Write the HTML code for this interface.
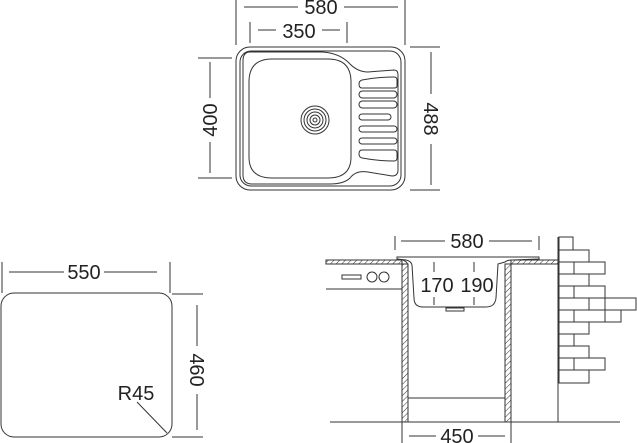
<!DOCTYPE html>
<html><head><meta charset="utf-8"><style>
html,body{margin:0;padding:0;background:#fff;}
svg{display:block}
text{font-family:"Liberation Sans",sans-serif;fill:#222;font-size:20px;}
</style></head><body>
<svg width="637" height="443" viewBox="0 0 637 443" xmlns="http://www.w3.org/2000/svg">
<defs>
<pattern id="h" width="4" height="4" patternUnits="userSpaceOnUse" patternTransform="rotate(45)">
<line x1="0" y1="0" x2="0" y2="4" stroke="#333" stroke-width="1"/>
</pattern>
</defs>
<g fill="none" stroke="#333" stroke-width="1">
<line x1="236" y1="0" x2="236" y2="45"/><line x1="405" y1="0" x2="405" y2="45"/>
<line x1="244" y1="7" x2="298" y2="7"/><line x1="344" y1="7" x2="398" y2="7"/>
<line x1="250" y1="22" x2="250" y2="43"/><line x1="347" y1="22" x2="347" y2="43"/>
<line x1="258" y1="30" x2="276" y2="30"/><line x1="322" y1="30" x2="340" y2="30"/>
<line x1="198" y1="58" x2="232" y2="58"/><line x1="198" y1="178" x2="232" y2="178"/>
<line x1="210" y1="62" x2="210" y2="98"/><line x1="210" y1="142" x2="210" y2="173"/>
<line x1="410" y1="47" x2="440" y2="47"/><line x1="410" y1="190" x2="440" y2="190"/>
<line x1="431" y1="52" x2="431" y2="94"/><line x1="431" y1="144" x2="431" y2="185"/>
<rect x="236" y="47" width="169" height="143" rx="14"/>
<rect x="240" y="51" width="161" height="135" rx="11"/>
<path d="M250 52 L322 52 Q340 53 350 64 Q358 72 368 72 L394 70 Q398 70 398 75 L398 170 Q398 176 392 176 L368 172 Q356 170 350 178 Q344 184 330 184 L252 184 Q243 184 243 175 L243 61 Q243 52 250 52 Z"/>
<path d="M272 59 L328 59 Q351 59 351 82 L351 157 Q351 178 328 178 L272 178 Q249 178 249 157 L249 82 Q249 59 272 59 Z"/>
<circle cx="315" cy="120" r="14"/><circle cx="315" cy="120" r="11"/><circle cx="315" cy="120" r="8"/><circle cx="315" cy="120" r="5"/><circle cx="315" cy="120" r="2"/>
<path d="M362 80 Q378 77 394 77 Q397 77 397 80 L397 86 Q397 88 394 88 L362 88 Q359 88 359 84 Q359 81 362 80 Z"/>
<rect x="359" y="91" width="38" height="7" rx="3.5"/>
<rect x="359" y="101" width="38" height="7" rx="3.5"/>
<rect x="359" y="114" width="32" height="6" rx="3"/>
<rect x="359" y="126" width="38" height="6" rx="3"/>
<rect x="359" y="138" width="38" height="6" rx="3"/>
<path d="M362 150 L394 150 Q397 150 397 153 L397 158 Q397 161 394 161 Q378 161 362 158 Q359 157 359 154 Q359 150 362 150 Z"/>

<line x1="2" y1="262" x2="2" y2="293"/><line x1="170" y1="262" x2="170" y2="293"/>
<line x1="9" y1="272" x2="64" y2="272"/><line x1="104" y1="272" x2="157" y2="272"/>
<rect x="1" y="293" width="171" height="144" rx="13"/>
<line x1="172" y1="294" x2="203" y2="294"/><line x1="172" y1="437" x2="203" y2="437"/>
<line x1="197" y1="305" x2="197" y2="346"/><line x1="197" y1="394" x2="197" y2="430"/>
<line x1="137" y1="402" x2="167" y2="433"/>

<line x1="395" y1="236" x2="395" y2="250"/><line x1="539" y1="236" x2="539" y2="250"/>
<line x1="401" y1="241" x2="445" y2="241"/><line x1="489" y1="241" x2="532" y2="241"/>
<rect x="326" y="260" width="76" height="4" fill="url(#h)"/>
<rect x="511" y="260" width="47" height="4" fill="url(#h)"/>
<line x1="326" y1="260" x2="402" y2="260"/>
<rect x="402" y="264" width="6" height="158" fill="url(#h)"/>
<rect x="505" y="264" width="6" height="158" fill="url(#h)"/>
<line x1="408" y1="398" x2="505" y2="398"/>
<line x1="330" y1="422" x2="620" y2="422"/>
<line x1="326" y1="289" x2="402" y2="289"/>
<rect x="342" y="275" width="19" height="4"/>
<circle cx="372" cy="277" r="5"/><circle cx="384" cy="277" r="5"/>
<path d="M397 257 L539 257 L539 259 L512 260 Q507 260 505 262 L498 264 L496 298 Q495 307 486 307 L423 307 Q414 307 414 298 L412 265 Q411 261 406 260 L397 259 Z"/>
<path d="M403 260 Q408 262 408 266"/>
<rect x="446" y="308" width="18" height="3"/>
<line x1="434" y1="262" x2="434" y2="272"/><line x1="434" y1="297" x2="434" y2="305"/>
<line x1="474" y1="262" x2="474" y2="272"/><line x1="474" y1="297" x2="474" y2="305"/>
<line x1="402" y1="422" x2="402" y2="443"/><line x1="511" y1="422" x2="511" y2="443"/>
<line x1="409" y1="436" x2="436" y2="436"/><line x1="478" y1="436" x2="505" y2="436"/>
<line x1="558" y1="237" x2="558" y2="422"/>
<rect x="559" y="237" width="14" height="13"/>
<rect x="559" y="250" width="30" height="12"/>
<rect x="559" y="262" width="15" height="12"/><rect x="574" y="262" width="31" height="12"/>
<rect x="559" y="274" width="30" height="12"/>
<rect x="559" y="286" width="15" height="12"/><rect x="574" y="286" width="31" height="12"/>
<rect x="559" y="298" width="30" height="12"/><rect x="589" y="298" width="16" height="12"/><rect x="605" y="298" width="31" height="12"/>
<rect x="559" y="310" width="15" height="12"/><rect x="574" y="310" width="31" height="12"/><rect x="605" y="310" width="16" height="12"/>
<rect x="559" y="322" width="30" height="12"/>
<rect x="559" y="334" width="15" height="12"/>
<rect x="559" y="346" width="30" height="12"/>
<rect x="559" y="358" width="15" height="12"/><rect x="574" y="358" width="31" height="12"/>
<rect x="559" y="370" width="30" height="13"/>
</g>
<text x="321" y="14" text-anchor="middle">580</text>
<text x="299" y="38" text-anchor="middle">350</text>
<text transform="translate(217,120) rotate(-90)" text-anchor="middle">400</text>
<text transform="translate(424,119) rotate(90)" text-anchor="middle">488</text>
<text x="84" y="279" text-anchor="middle">550</text>
<text transform="translate(190,370) rotate(90)" text-anchor="middle">460</text>
<text x="136" y="400" text-anchor="middle" font-size="19">R45</text>
<text x="467" y="248" text-anchor="middle">580</text>
<text x="437" y="292" text-anchor="middle">170</text>
<text x="477" y="292" text-anchor="middle">190</text>
<text x="457" y="443" text-anchor="middle">450</text>
</svg>
</body></html>
